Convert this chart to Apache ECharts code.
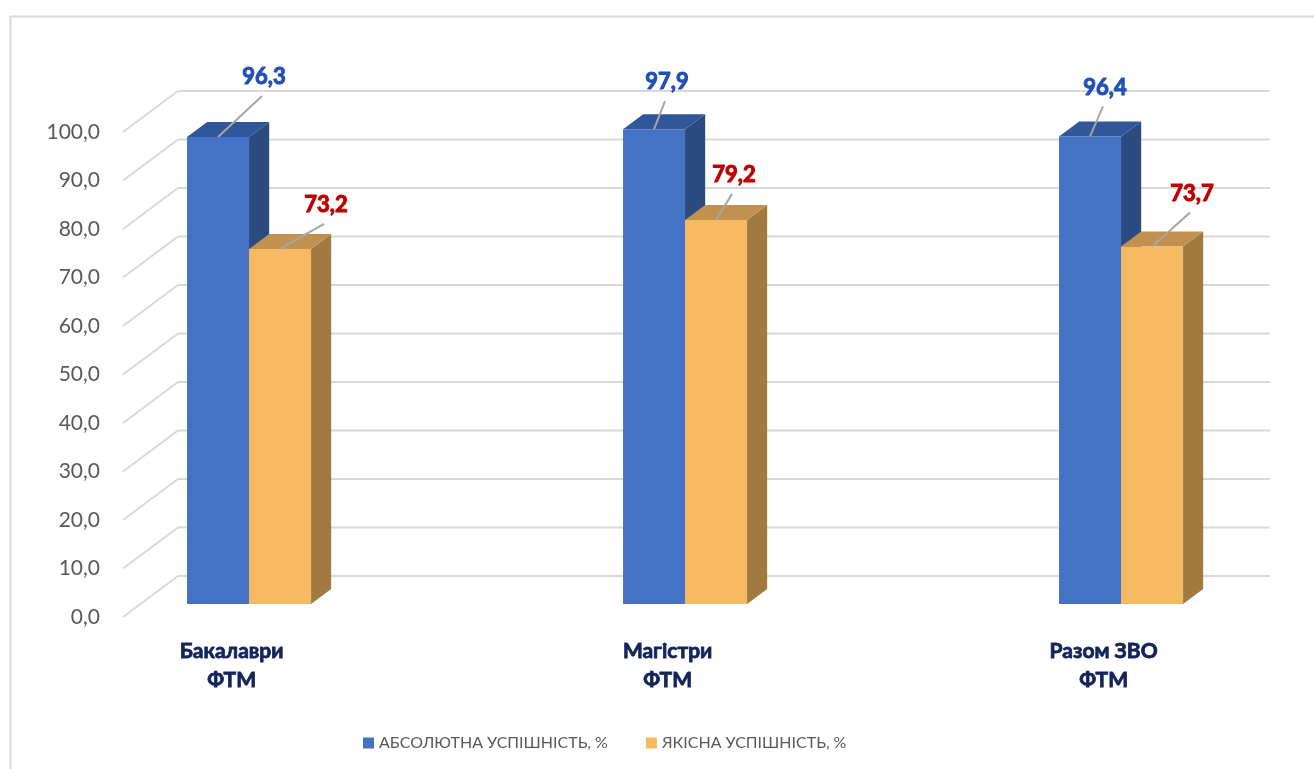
<!DOCTYPE html>
<html>
<head>
<meta charset="utf-8">
<script src="https://cdn.jsdelivr.net/npm/echarts@6/dist/echarts.min.js"></script>
<style>
  html, body { margin: 0; padding: 0; background: #fff; }
  #chart { width: 1314px; height: 769px; }
</style>
</head>
<body>
<div id="chart"></div>
<script>
// дані
var categories = ['Бакалаври\nФТМ', 'Магістри\nФТМ', 'Разом ЗВО\nФТМ']
var seriesNames = ['АБСОЛЮТНА УСПІШНІСТЬ, %', 'ЯКІСНА УСПІШНІСТЬ, %']
var absValues = [96.3, 97.9, 96.4]
var qualValues = [73.2, 79.2, 73.7]
var yTicks = [0, 10, 20, 30, 40, 50, 60, 70, 80, 90, 100]

// зсув підписів відносно верху стовпчика (px), як їх розставлено вручну
var absLabelShift = [[46, -60], [13, -47], [15, -49]]
var qualLabelShift = [[46, -44], [18, -45], [40, -53]]

// 3D параметри
var DX = 55
var DY = 41
var D0 = 0.317
var D1 = 0.683
var BAR_W = 62

var faceColors = [
  { front: '#4472C4', top: '#30579A', side: '#2A4A80', label: '#2150B6' },
  { front: '#F6BA63', top: '#C1914F', side: '#A07A40', label: '#C00000' }
]

function fmt(v) {
  return v.toFixed(1).replace('.', ',')
}

function wallItem(params, api) {
  var cs = params.coordSys
  var p = api.coord([0, api.value(0)])
  var bx = p[0] + DX
  var by = p[1] - DY
  var style = { stroke: '#D9D9D9', lineWidth: 2, fill: null }
  return {
    type: 'group',
    children: [
      { type: 'line', shape: { x1: p[0], y1: p[1], x2: bx, y2: by }, style: style },
      { type: 'line', shape: { x1: bx, y1: by, x2: cs.x + cs.width + DX, y2: by }, style: style }
    ]
  }
}

function makeBarItem(si, shifts) {
  var c = faceColors[si]
  return function(params, api) {
    var idx = api.value(0)
    var val = api.value(1)
    var base = api.coord([idx, 0])
    var top = api.coord([idx, val])
    var fx = D0 * DX
    var fy = -D0 * DY
    var ex = (D1 - D0) * DX
    var ey = (D1 - D0) * DY
    var x0 = base[0] + fx + (si === 0 ? -BAR_W : 0)
    var x1 = x0 + BAR_W
    var yb = base[1] + fy
    var yt = top[1] + fy
    var cx = (x0 + x1) / 2
    var sh = shifts[params.dataIndex]
    var lx = cx + sh[0]
    var ly = yt + sh[1]
    return {
      type: 'group',
      children: [
        { type: 'polygon', shape: { points: [[x1, yt], [x1 + ex, yt - ey], [x1 + ex, yb - ey], [x1, yb]] }, style: { fill: c.side } },
        { type: 'polygon', shape: { points: [[x0, yt], [x1, yt], [x1 + ex, yt - ey], [x0 + ex, yt - ey]] }, style: { fill: c.top } },
        { type: 'rect', shape: { x: x0, y: yt, width: BAR_W, height: yb - yt }, style: { fill: c.front } },
        { type: 'line', shape: { x1: cx, y1: yt, x2: lx - 2, y2: ly + 19 }, style: { stroke: '#A6A6A6', lineWidth: 2 } },
        {
          type: 'text',
          style: {
            text: fmt(val), x: lx, y: ly, align: 'center', verticalAlign: 'middle',
            fill: c.label, stroke: c.label, lineWidth: 1,
            fontFamily: 'Lato', fontWeight: 'bold', fontSize: 22
          }
        }
      ]
    }
  }
}

var chart = echarts.init(document.getElementById('chart'))
chart.setOption({
  animation: false,
  graphic: [{
    type: 'rect', left: 8, top: 14, shape: { width: 1330, height: 780 },
    style: { fill: null, stroke: '#D9D9D9', lineWidth: 2 }, silent: true
  }],
  legend: {
    data: seriesNames,
    left: 358,
    top: 730,
    icon: 'rect',
    itemWidth: 11,
    itemHeight: 11,
    itemGap: 38,
    textStyle: { color: '#595959', fontFamily: 'Lato', fontSize: 16 }
  },
  grid: [
    { left: 123, right: 99, top: 132, bottom: 152 },
    { left: 231.6, right: 210.4, top: 132, bottom: 152 }
  ],
  xAxis: [
    { type: 'value', gridIndex: 0, min: 0, max: 1, show: false },
    {
      type: 'category', gridIndex: 1, data: categories, boundaryGap: false,
      axisLine: { show: false }, axisTick: { show: false },
      axisLabel: {
        margin: 20, color: '#13235B', fontFamily: 'Lato', fontWeight: 'bold',
        fontSize: 21, lineHeight: 29, textBorderColor: '#13235B', textBorderWidth: 0.8
      }
    }
  ],
  yAxis: [
    {
      type: 'value', gridIndex: 0, min: 0, max: 100, interval: 10,
      axisLine: { show: false }, axisTick: { show: false }, splitLine: { show: false },
      axisLabel: { margin: 23, color: '#595959', fontFamily: 'Lato', fontSize: 21, formatter: fmt }
    },
    { type: 'value', gridIndex: 1, min: 0, max: 100, show: false }
  ],
  series: [
    {
      type: 'custom', xAxisIndex: 0, yAxisIndex: 0, silent: true, z: 1,
      data: yTicks.map(function(v) { return [v] }),
      encode: { y: 0 },
      renderItem: wallItem
    },
    {
      name: seriesNames[0], type: 'custom', xAxisIndex: 1, yAxisIndex: 1, z: 2,
      itemStyle: { color: faceColors[0].front },
      data: absValues.map(function(v, i) { return [i, v] }),
      encode: { x: 0, y: 1 },
      renderItem: makeBarItem(0, absLabelShift)
    },
    {
      name: seriesNames[1], type: 'custom', xAxisIndex: 1, yAxisIndex: 1, z: 3,
      itemStyle: { color: faceColors[1].front },
      data: qualValues.map(function(v, i) { return [i, v] }),
      encode: { x: 0, y: 1 },
      renderItem: makeBarItem(1, qualLabelShift)
    }
  ]
})
</script>
</body>
</html>
